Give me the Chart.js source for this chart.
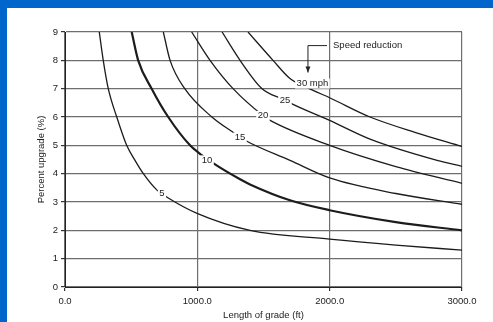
<!DOCTYPE html>
<html>
<head>
<meta charset="utf-8">
<script src="https://cdn.jsdelivr.net/npm/chart.js@4.4.0/dist/chart.umd.min.js"></script>
<style>
  html, body { margin: 0; padding: 0; background: #0066cc; overflow: hidden; }
  #frame { position: absolute; left: 7px; top: 8px; width: 486px; height: 314px; background: #fff; }
  canvas { display: block; }
</style>
</head>
<body>
<div id="frame"><canvas id="gradeChart" width="486" height="314"></canvas></div>
<script>
// length of grade (ft) / percent upgrade (%) for each speed reduction curve
const length05 = [259, 289, 327, 391, 466, 529, 592, 695, 771, 998, 1398, 2000, 2500, 3000];
const grade05  = [9, 8, 7, 6, 5, 4.47, 4, 3.42, 3.17, 2.6, 2.0, 1.69, 1.48, 1.30];

const length10 = [504, 553, 655, 780, 945, 1035, 1119, 1323, 1398, 1700, 2000, 2500, 3000];
const grade10  = [9, 8, 7, 6, 5, 4.65, 4.37, 3.8, 3.62, 3.06, 2.71, 2.29, 2.0];

const length15 = [743, 794, 905, 1110, 1270, 1360, 1700, 2000, 2500, 3000];
const grade15  = [9, 8, 7, 6, 5.46, 5.18, 4.47, 3.85, 3.3, 2.92];

const length20 = [957, 1096, 1270, 1496, 1550, 2000, 2500, 3000];
const grade20  = [9, 8, 7, 6.05, 5.88, 5.0, 4.25, 3.66];

const length25 = [1187, 1323, 1489, 1662, 1700, 2000, 2305, 2812, 3000];
const grade25  = [9, 8, 7, 6.6, 6.5, 5.88, 5.22, 4.47, 4.26];

const length30 = [1383, 1572, 1700, 1875, 2000, 2305, 2650, 3000];
const grade30  = [9, 8, 7.36, 6.94, 6.68, 6.0, 5.45, 4.96];

// curve labels, placed on the curves in data units
const labelText   = ['5', '10', '15', '20', '25', '30 mph'];
const labelLength = [733, 1073, 1322, 1496, 1662, 1870];
const labelGrade  = [3.31, 4.47, 5.28, 6.04, 6.60, 7.18];

// "Speed reduction" note with its elbow arrow
const noteText = 'Speed reduction';
const noteArrowLength = [1980, 1836, 1836];
const noteArrowGrade  = [8.52, 8.52, 7.57];

const FONT = '"Liberation Sans", Arial, sans-serif';
const INK = '#222';

function toPoints(xs, ys) {
    return xs.map((v, i) => ({ x: v, y: ys[i] }));
}

function curve(xs, ys, width) {
    return {
        data: toPoints(xs, ys),
        showLine: true,
        borderColor: '#1c1c1c',
        borderWidth: width,
        pointRadius: 0,
        fill: false,
        cubicInterpolationMode: 'monotone'
    };
}

const curveLabels = {
    id: 'curveLabels',
    afterDatasetsDraw(chart) {
        const { ctx, scales: { x, y } } = chart;
        ctx.save();
        ctx.font = '9.5px ' + FONT;
        ctx.textAlign = 'center';
        ctx.textBaseline = 'middle';
        labelText.forEach((t, i) => {
            const px = x.getPixelForValue(labelLength[i]);
            const py = y.getPixelForValue(labelGrade[i]);
            const w = ctx.measureText(t).width;
            ctx.fillStyle = '#fff';
            ctx.fillRect(px - w / 2 - 1.5, py - 5, w + 3, 10);
            ctx.fillStyle = INK;
            ctx.fillText(t, px, py);
        });

        // note text
        const tx = x.getPixelForValue(noteArrowLength[0]) + 6;
        const ty = y.getPixelForValue(noteArrowGrade[0]);
        ctx.textAlign = 'left';
        ctx.fillText(noteText, tx, ty);

        // elbow arrow
        ctx.strokeStyle = INK;
        ctx.lineWidth = 1;
        ctx.beginPath();
        noteArrowLength.forEach((v, i) => {
            const px = x.getPixelForValue(v);
            const py = y.getPixelForValue(noteArrowGrade[i]);
            if (i === 0) ctx.moveTo(px, py); else ctx.lineTo(px, py);
        });
        ctx.stroke();
        const ax = x.getPixelForValue(noteArrowLength[2]);
        const ay = y.getPixelForValue(noteArrowGrade[2]);
        ctx.fillStyle = INK;
        ctx.beginPath();
        ctx.moveTo(ax, ay);
        ctx.lineTo(ax - 2.5, ay - 6);
        ctx.lineTo(ax + 2.5, ay - 6);
        ctx.closePath();
        ctx.fill();
        ctx.restore();
    }
};

const ctx = document.getElementById('gradeChart').getContext('2d');
new Chart(ctx, {
    type: 'scatter',
    data: {
        datasets: [
            curve(length05, grade05, 1.3),
            curve(length10, grade10, 2.2),
            curve(length15, grade15, 1.3),
            curve(length20, grade20, 1.3),
            curve(length25, grade25, 1.3),
            curve(length30, grade30, 1.3)
        ]
    },
    options: {
        responsive: false,
        animation: false,
        layout: { padding: { left: 28, top: 24, right: 31, bottom: 0 } },
        plugins: {
            legend: { display: false },
            tooltip: { enabled: false }
        },
        scales: {
            x: {
                type: 'linear',
                min: 0,
                max: 3000,
                afterFit: s => { s.height = 35; },
                ticks: {
                    stepSize: 1000,
                    maxRotation: 0,
                    padding: 5,
                    color: INK,
                    font: { family: FONT, size: 9.5 },
                    callback: v => v.toFixed(1)
                },
                grid: { color: '#6e6e6e', lineWidth: 1.2, tickLength: 4, tickColor: '#333' },
                border: { color: INK, width: 1 },
                title: {
                    display: true,
                    text: 'Length of grade (ft)',
                    color: INK,
                    font: { family: FONT, size: 9.5 },
                    padding: { top: 0, bottom: 1 }
                }
            },
            y: {
                min: 0,
                max: 9,
                afterFit: s => { s.width = 30; },
                ticks: {
                    stepSize: 1,
                    padding: 3,
                    color: INK,
                    font: { family: FONT, size: 9.5 }
                },
                grid: { color: '#6e6e6e', lineWidth: 1.2, tickLength: 4, tickColor: '#333' },
                border: { color: INK, width: 1 },
                title: {
                    display: true,
                    text: 'Percent upgrade (%)',
                    color: INK,
                    font: { family: FONT, size: 9.5 },
                    padding: { top: 1, bottom: 0 }
                }
            }
        }
    },
    plugins: [curveLabels]
});
</script>
</body>
</html>
